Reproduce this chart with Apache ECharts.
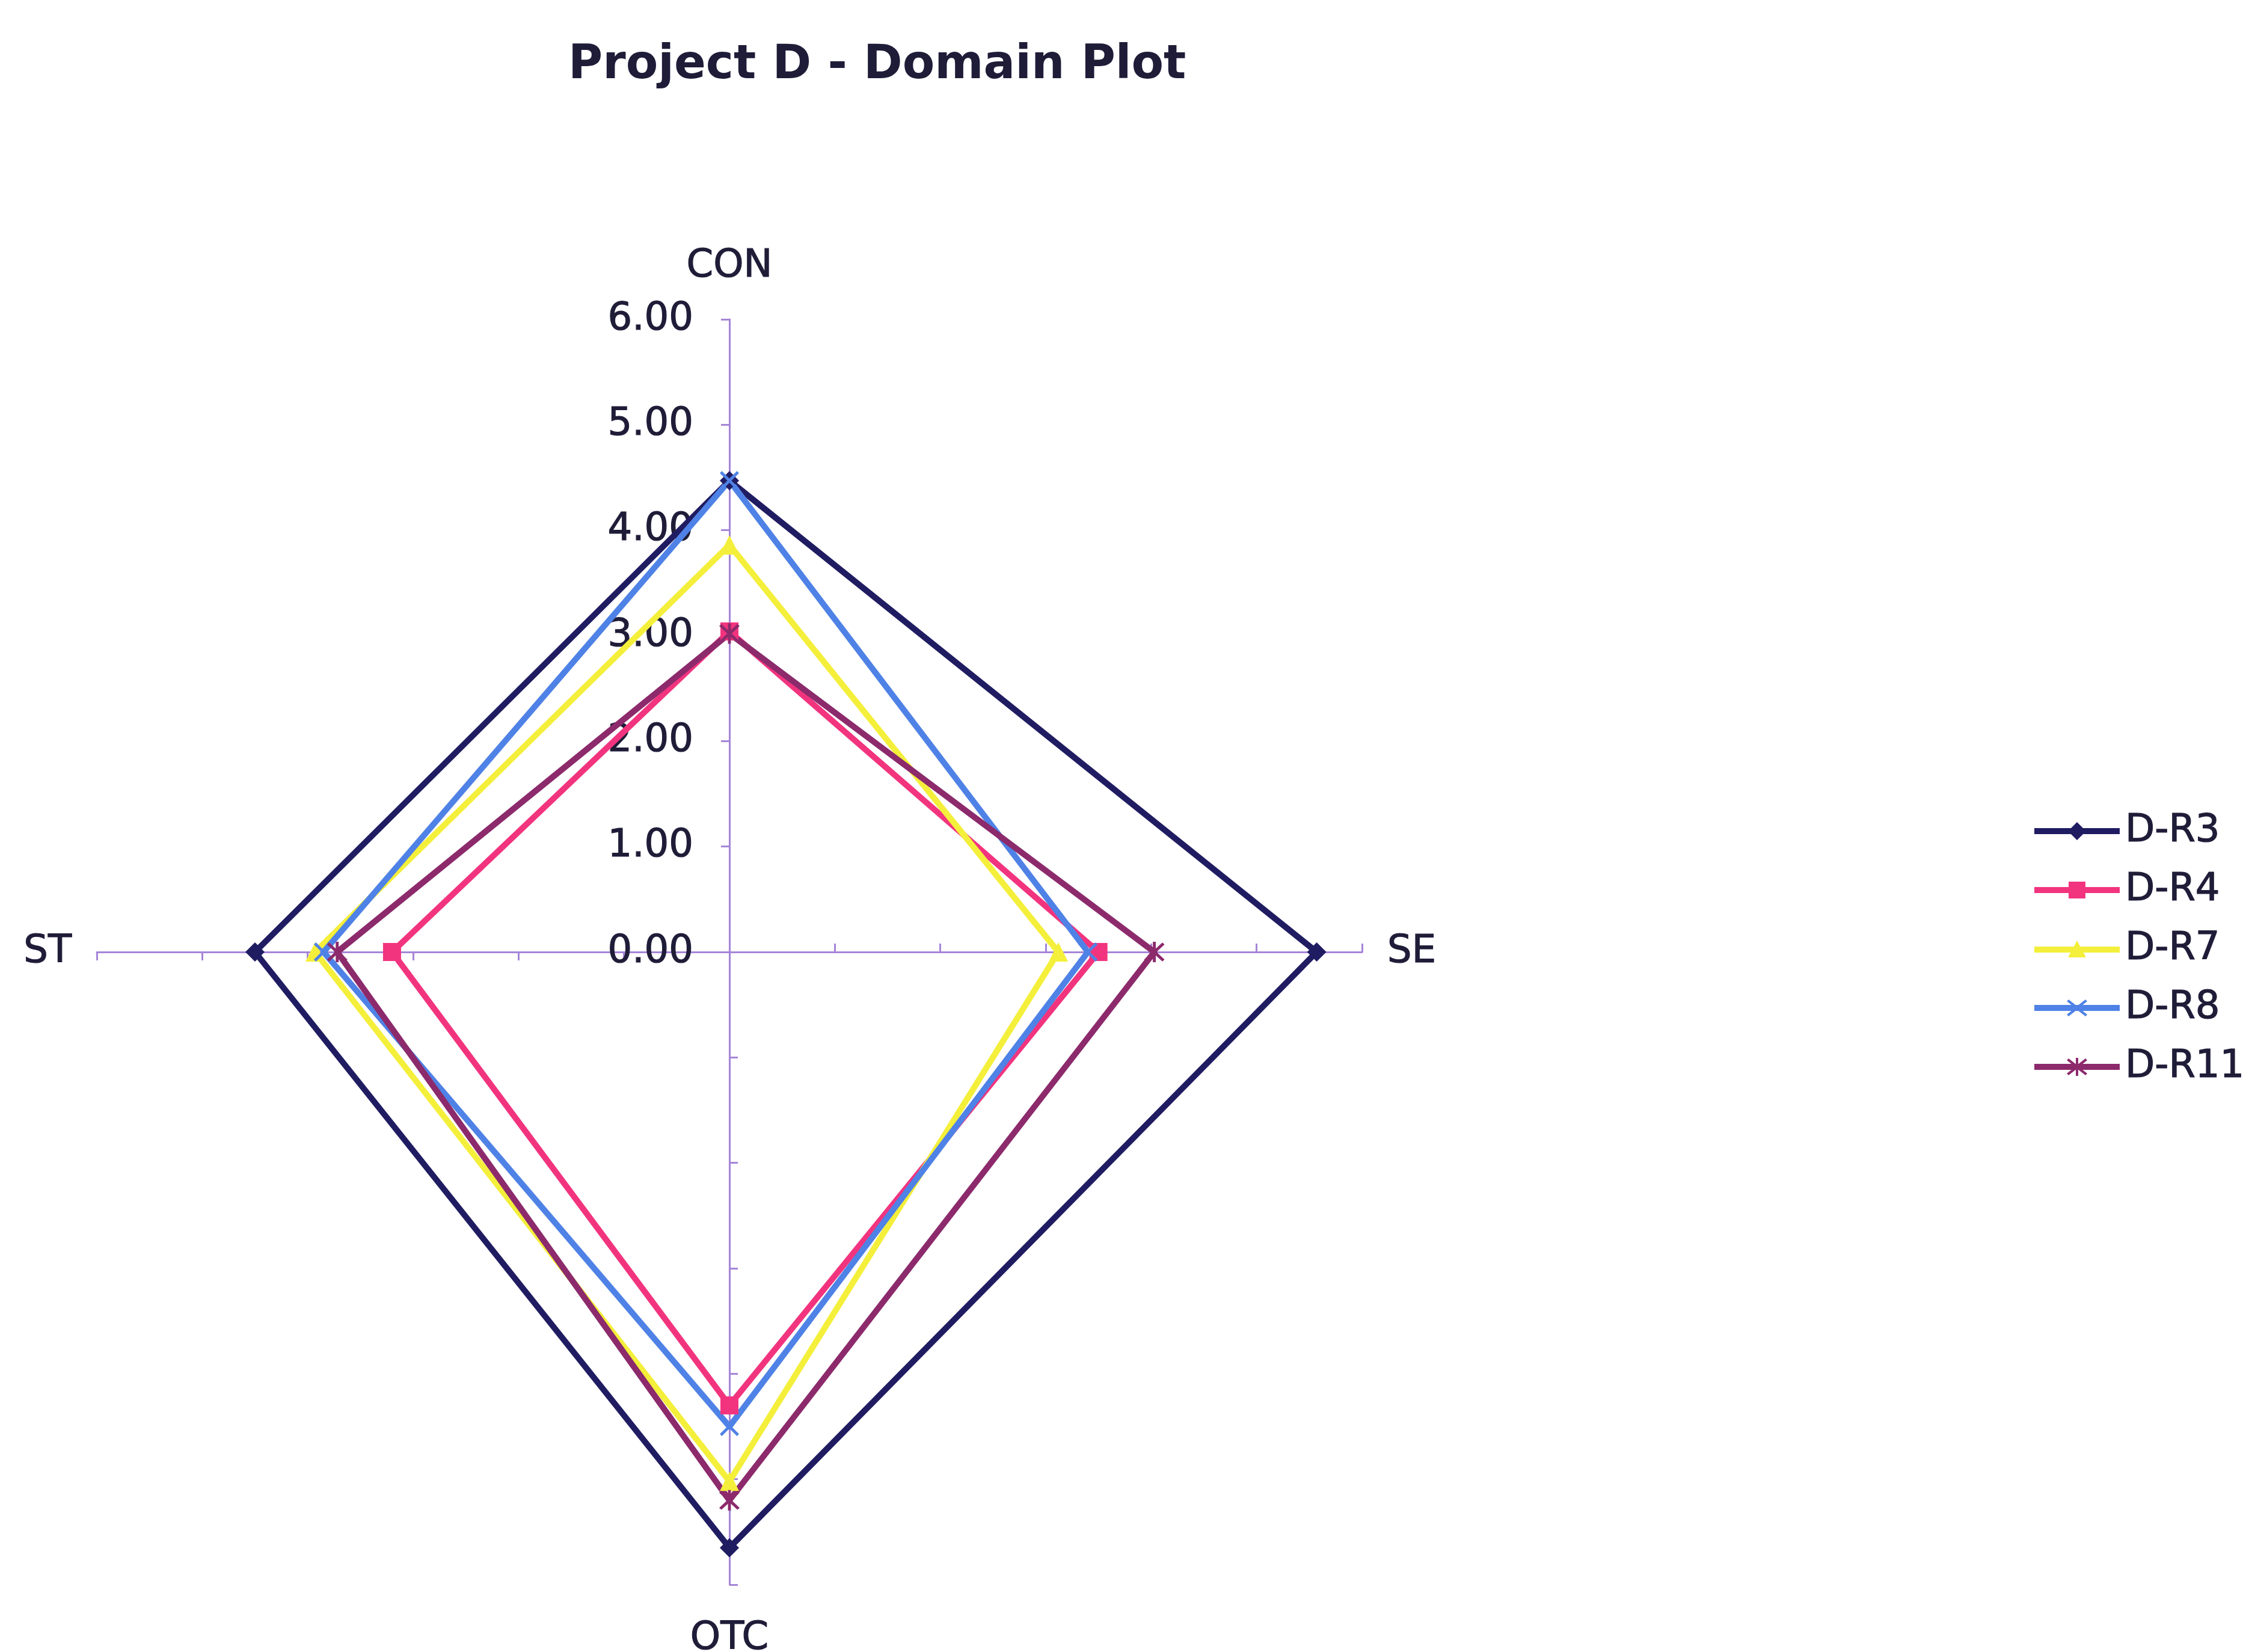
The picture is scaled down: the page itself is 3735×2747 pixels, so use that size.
<!DOCTYPE html>
<html>
<head>
<meta charset="utf-8">
<title>Project D - Domain Plot</title>
<script src="https://cdn.jsdelivr.net/npm/echarts@6/dist/echarts.min.js"></script>
<style>
  html, body { margin: 0; padding: 0; background: #ffffff; }
  #chart { width: 3735px; height: 2747px; }
</style>
</head>
<body>
<div id="chart"></div>
<script>
// Domain axes, listed in the order ECharts lays them out (counter-clockwise from the top)
const domains = ['CON', 'ST', 'OTC', 'SE'];
const axisMax = 6;
const tickStep = 1;

// Scores per release, same order as `domains`
const seriesNames = ['D-R3', 'D-R4', 'D-R7', 'D-R8', 'D-R11'];
const dR3  = [4.47, 4.50, 5.65, 5.57];
const dR4  = [3.04, 3.20, 4.30, 3.50];
const dR7  = [3.86, 3.93, 5.02, 3.12];
const dR8  = [4.47, 3.85, 4.50, 3.40];
const dR11 = [3.02, 3.72, 5.20, 4.03];
const seriesValues = [dR3, dR4, dR7, dR8, dR11];

const colors = ['#201c62', '#f2347f', '#f4ef3a', '#4f82e6', '#8c2a6c'];

// Marker shapes
const X_PATH = 'M1,4L4,1L15,12L26,1L29,4L18,15L29,26L26,29L15,18L4,29L1,26L12,15Z';
const STAR_PATH = X_PATH + ' M13,0H17V30H13Z';
const symbols = ['diamond', 'rect', 'triangle', 'path://' + X_PATH, 'path://' + STAR_PATH];
const symbolSizes = [32, 30, 32, 32, 34];

// Legend icons: a line with the marker in the middle
const LINE = 'M0,10H142V20H0Z ';
const legendIcons = [
  LINE + 'M71,0L86,15L71,30L56,15Z',
  LINE + 'M57,1H85V29H57Z',
  LINE + 'M71,0L86,28L56,28Z',
  LINE + 'M57,1L71,12L85,1L88,4L74,15L88,26L85,29L71,18L57,29L54,26L68,15L54,4Z',
  LINE + 'M57,1L71,12L85,1L88,4L74,15L88,26L85,29L71,18L57,29L54,26L68,15L54,4Z M69,0H73V30H69Z'
].map(p => 'path://' + p);

const CX = 1213, CY = 1583, R = 1052;
const FONT = '"DejaVu Sans", Verdana, sans-serif';
const TEXT = '#1f1c38';
const AXIS = '#a585d8';
const textLook = { fontFamily: FONT, color: TEXT, textBorderColor: TEXT, textBorderWidth: 1.2 };

const chart = echarts.init(document.getElementById('chart'), null, { renderer: 'canvas' });

chart.setOption({
  backgroundColor: '#ffffff',
  animation: false,
  title: {
    text: 'Project D - Domain Plot',
    left: 940,
    top: 66,
    textStyle: Object.assign({}, textLook, { fontSize: 78, fontWeight: 'bold', textBorderWidth: 0 })
  },
  legend: {
    orient: 'vertical',
    left: 3378,
    top: 1344,
    itemWidth: 142,
    itemHeight: 30,
    itemGap: 32,
    textStyle: Object.assign({}, textLook, { fontSize: 64, lineHeight: 66, padding: [0, 0, 0, 4] }),
    data: seriesNames.map((n, i) => ({ name: n, icon: legendIcons[i] }))
  },
  // Value scale printed along the CON axis only
  grid: { left: CX, top: CY - R, width: 10, height: R, containLabel: false },
  xAxis: { type: 'value', show: false },
  yAxis: {
    type: 'value',
    min: 0,
    max: axisMax,
    interval: tickStep,
    z: 0,
    axisLine: { show: false },
    axisTick: { show: false },
    splitLine: { show: false },
    axisLabel: Object.assign({}, textLook, {
      margin: 60,
      fontSize: 64,
      formatter: v => v.toFixed(2)
    })
  },
  radar: {
    center: [CX, CY],
    radius: R,
    startAngle: 90,
    shape: 'polygon',
    splitNumber: axisMax / tickStep,
    indicator: domains.map(d => ({ name: d, min: 0, max: axisMax })),
    axisName: Object.assign({}, textLook, { fontSize: 64, padding: [16, 0, 14, 0] }),
    nameGap: 42,
    axisLine: { lineStyle: { color: AXIS, width: 3 } },
    axisTick: { show: true, length: 14, lineStyle: { color: AXIS, width: 3 } },
    axisLabel: { show: false },
    splitLine: { show: false },
    splitArea: { show: false }
  },
  series: [{
    type: 'radar',
    z: 3,
    data: seriesNames.map((n, i) => ({
      name: n,
      value: seriesValues[i],
      symbol: symbols[i],
      symbolSize: symbolSizes[i],
      lineStyle: { color: colors[i], width: 10 },
      itemStyle: { color: colors[i] },
      areaStyle: { opacity: 0 }
    }))
  }],
  color: colors
});
</script>
</body>
</html>
